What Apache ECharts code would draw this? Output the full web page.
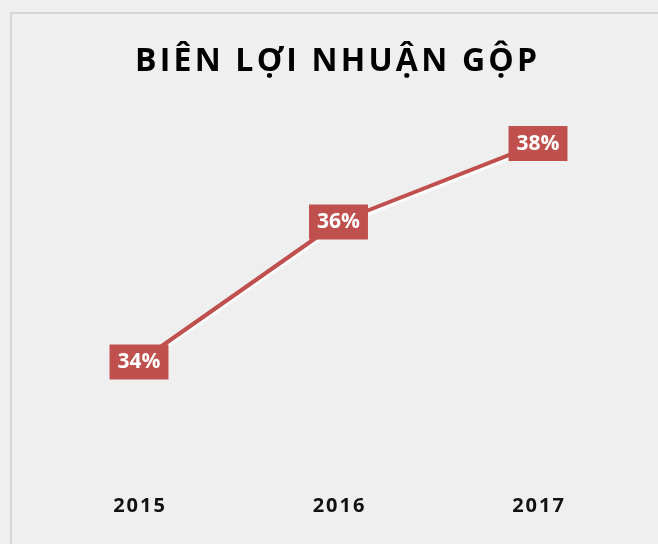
<!DOCTYPE html>
<html><head><meta charset="utf-8">
<script src="https://cdn.jsdelivr.net/npm/echarts@6/dist/echarts.min.js"></script>
<style>html,body{margin:0;padding:0;background:#efefef;}#c{width:658px;height:544px;}</style>
</head><body><div id="c"></div>
<script>
var titleText = 'BIÊN LỢI NHUẬN GỘP';
var categories = ['2015', '2016', '2017'];
var margins = [33.8, 36.3, 37.7];
var labels = ['34%', '36%', '38%'];

function spaced(s) { return s.split('').join('\u200A'); }

var chart = echarts.init(document.getElementById('c'));
chart.setOption({
  backgroundColor: '#efefef',
  animation: false,
  title: {
    text: spaced(titleText),
    left: 130,
    top: 41,
    textStyle: { fontFamily: 'Open Sans', fontWeight: 'bold', fontSize: 32, color: '#000' }
  },
  graphic: [
    { type: 'line', shape: { x1: 11, y1: 13, x2: 11, y2: 544 }, style: { stroke: '#d6d6d6', lineWidth: 2 } },
    { type: 'line', shape: { x1: 10, y1: 13, x2: 658, y2: 13 }, style: { stroke: '#d6d6d6', lineWidth: 2 } }
  ],
  grid: { left: 39.25, right: 20.25, top: 14.8, bottom: 81.2 },
  xAxis: {
    type: 'category',
    data: categories,
    boundaryGap: true,
    axisLine: { show: false },
    axisTick: { show: false },
    axisLabel: { margin: 33, fontFamily: 'Open Sans', fontWeight: 'bold', fontSize: 20, color: '#111',
      formatter: function (v) { return spaced(v); } }
  },
  yAxis: { type: 'value', min: 32, max: 40, show: false, splitLine: { show: false } },
  series: [{
    type: 'line',
    data: margins,
    symbol: 'circle',
    symbolSize: 2,
    showSymbol: true,
    itemStyle: { color: 'rgba(0,0,0,0)', borderWidth: 0 },
    lineStyle: { color: '#c0504d', width: 4, shadowColor: 'rgba(255,255,255,1)', shadowOffsetY: 3, shadowBlur: 2 },
    label: {
      show: true,
      position: 'inside',
      formatter: function (p) { return labels[p.dataIndex]; },
      backgroundColor: '#c0504d',
      color: '#fff',
      fontFamily: 'Open Sans',
      fontWeight: 'bold',
      fontSize: 21,
      padding: [7, 8, 7, 8]
    }
  }]
});
</script></body></html>
